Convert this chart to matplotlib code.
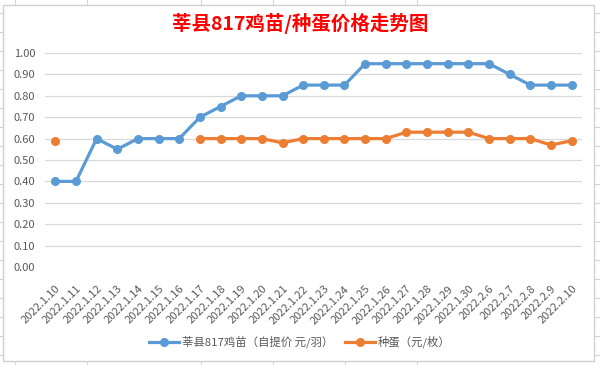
import matplotlib
matplotlib.use("Agg")
import matplotlib.pyplot as plt
import numpy as np
from matplotlib.lines import Line2D
from matplotlib.patches import Rectangle

plt.rcParams['font.family'] = ['Noto Sans CJK SC', 'DejaVu Sans']

categories = ["2022.1.10", "2022.1.11", "2022.1.12", "2022.1.13", "2022.1.14", "2022.1.15",
              "2022.1.16", "2022.1.17", "2022.1.18", "2022.1.19", "2022.1.20", "2022.1.21",
              "2022.1.22", "2022.1.23", "2022.1.24", "2022.1.25", "2022.1.26", "2022.1.27",
              "2022.1.28", "2022.1.29", "2022.1.30", "2022.2.6", "2022.2.7", "2022.2.8",
              "2022.2.9", "2022.2.10"]
chick = [0.40, 0.40, 0.60, 0.55, 0.60, 0.60, 0.60, 0.70, 0.75, 0.80, 0.80, 0.80, 0.85,
         0.85, 0.85, 0.95, 0.95, 0.95, 0.95, 0.95, 0.95, 0.95, 0.90, 0.85, 0.85, 0.85]
egg = [0.59, np.nan, np.nan, np.nan, np.nan, np.nan, np.nan, 0.60, 0.60, 0.60, 0.60, 0.58,
       0.60, 0.60, 0.60, 0.60, 0.60, 0.63, 0.63, 0.63, 0.63, 0.60, 0.60, 0.60, 0.57, 0.59]
yticks = [0.0, 0.1, 0.2, 0.3, 0.4, 0.5, 0.6, 0.7, 0.8, 0.9, 1.0]
title = "莘县817鸡苗/种蛋价格走势图"
series_names = ["莘县817鸡苗（自提价 元/羽）", "种蛋（元/枚）"]

W, H = 600, 365
fig = plt.figure(figsize=(6.0, 3.65), dpi=100)

# spreadsheet background grid
bg = fig.add_axes([0, 0, 1, 1])
bg.set_xlim(0, W); bg.set_ylim(H, 0); bg.axis('off')
gc = '#D4D4D4'
for y in range(13, H, 19):
    bg.plot([0, W], [y, y], color=gc, lw=0.8)
for x in [15, 87, 201, 273, 345, 417]:
    bg.plot([x, x], [0, H], color=gc, lw=0.8)
bg.add_patch(Rectangle((3, 5), 591, 356, facecolor='white', edgecolor='#D0D0D0', lw=1.0, zorder=5))

ax = fig.add_axes([45 / W, 1 - 267 / H, (582 - 45) / W, (267 - 53) / H])
ax.set_facecolor('none')
x = np.arange(len(categories))
blue = '#5B9BD5'
orange = '#ED7D31'
ax.plot(x, chick, color=blue, lw=2.3, marker='o', ms=5.5, clip_on=False, zorder=3)
ax.plot(x, egg, color=orange, lw=2.3, marker='o', ms=5.5, clip_on=False, zorder=3)
ax.set_xlim(-0.5, len(categories) - 0.5)
ax.set_ylim(0, 1.0)
ax.set_yticks(yticks)
ax.set_yticklabels([f"{v:.2f}" for v in yticks], fontsize=8, color='#595959')
ax.grid(axis='y', color='#D9D9D9', lw=0.9)
ax.set_axisbelow(True)
for s in ax.spines.values():
    s.set_visible(False)
ax.tick_params(axis='both', length=0)
ax.tick_params(axis='y', pad=7)
ax.set_xticks(x)
ax.set_xticklabels(categories, rotation=45, ha='right', va='top', rotation_mode='anchor',
                   fontsize=8, color='#595959')
ax.tick_params(axis='x', pad=12)

fig.text(0.5, 1 - 23 / H, title, ha='center', va='center', fontsize=14, fontweight='bold', color='#FF0000')

handles = [Line2D([], [], color=blue, lw=2.3, marker='o', ms=5.5),
           Line2D([], [], color=orange, lw=2.3, marker='o', ms=5.5)]
fig.legend(handles, series_names, loc='center', bbox_to_anchor=(0.5, 1 - 342 / H), ncol=2,
           frameon=False, fontsize=8.2, labelcolor='#595959', handlelength=2.6,
           handletextpad=0.3, columnspacing=1.0)

fig.savefig('out.png', dpi=100)
